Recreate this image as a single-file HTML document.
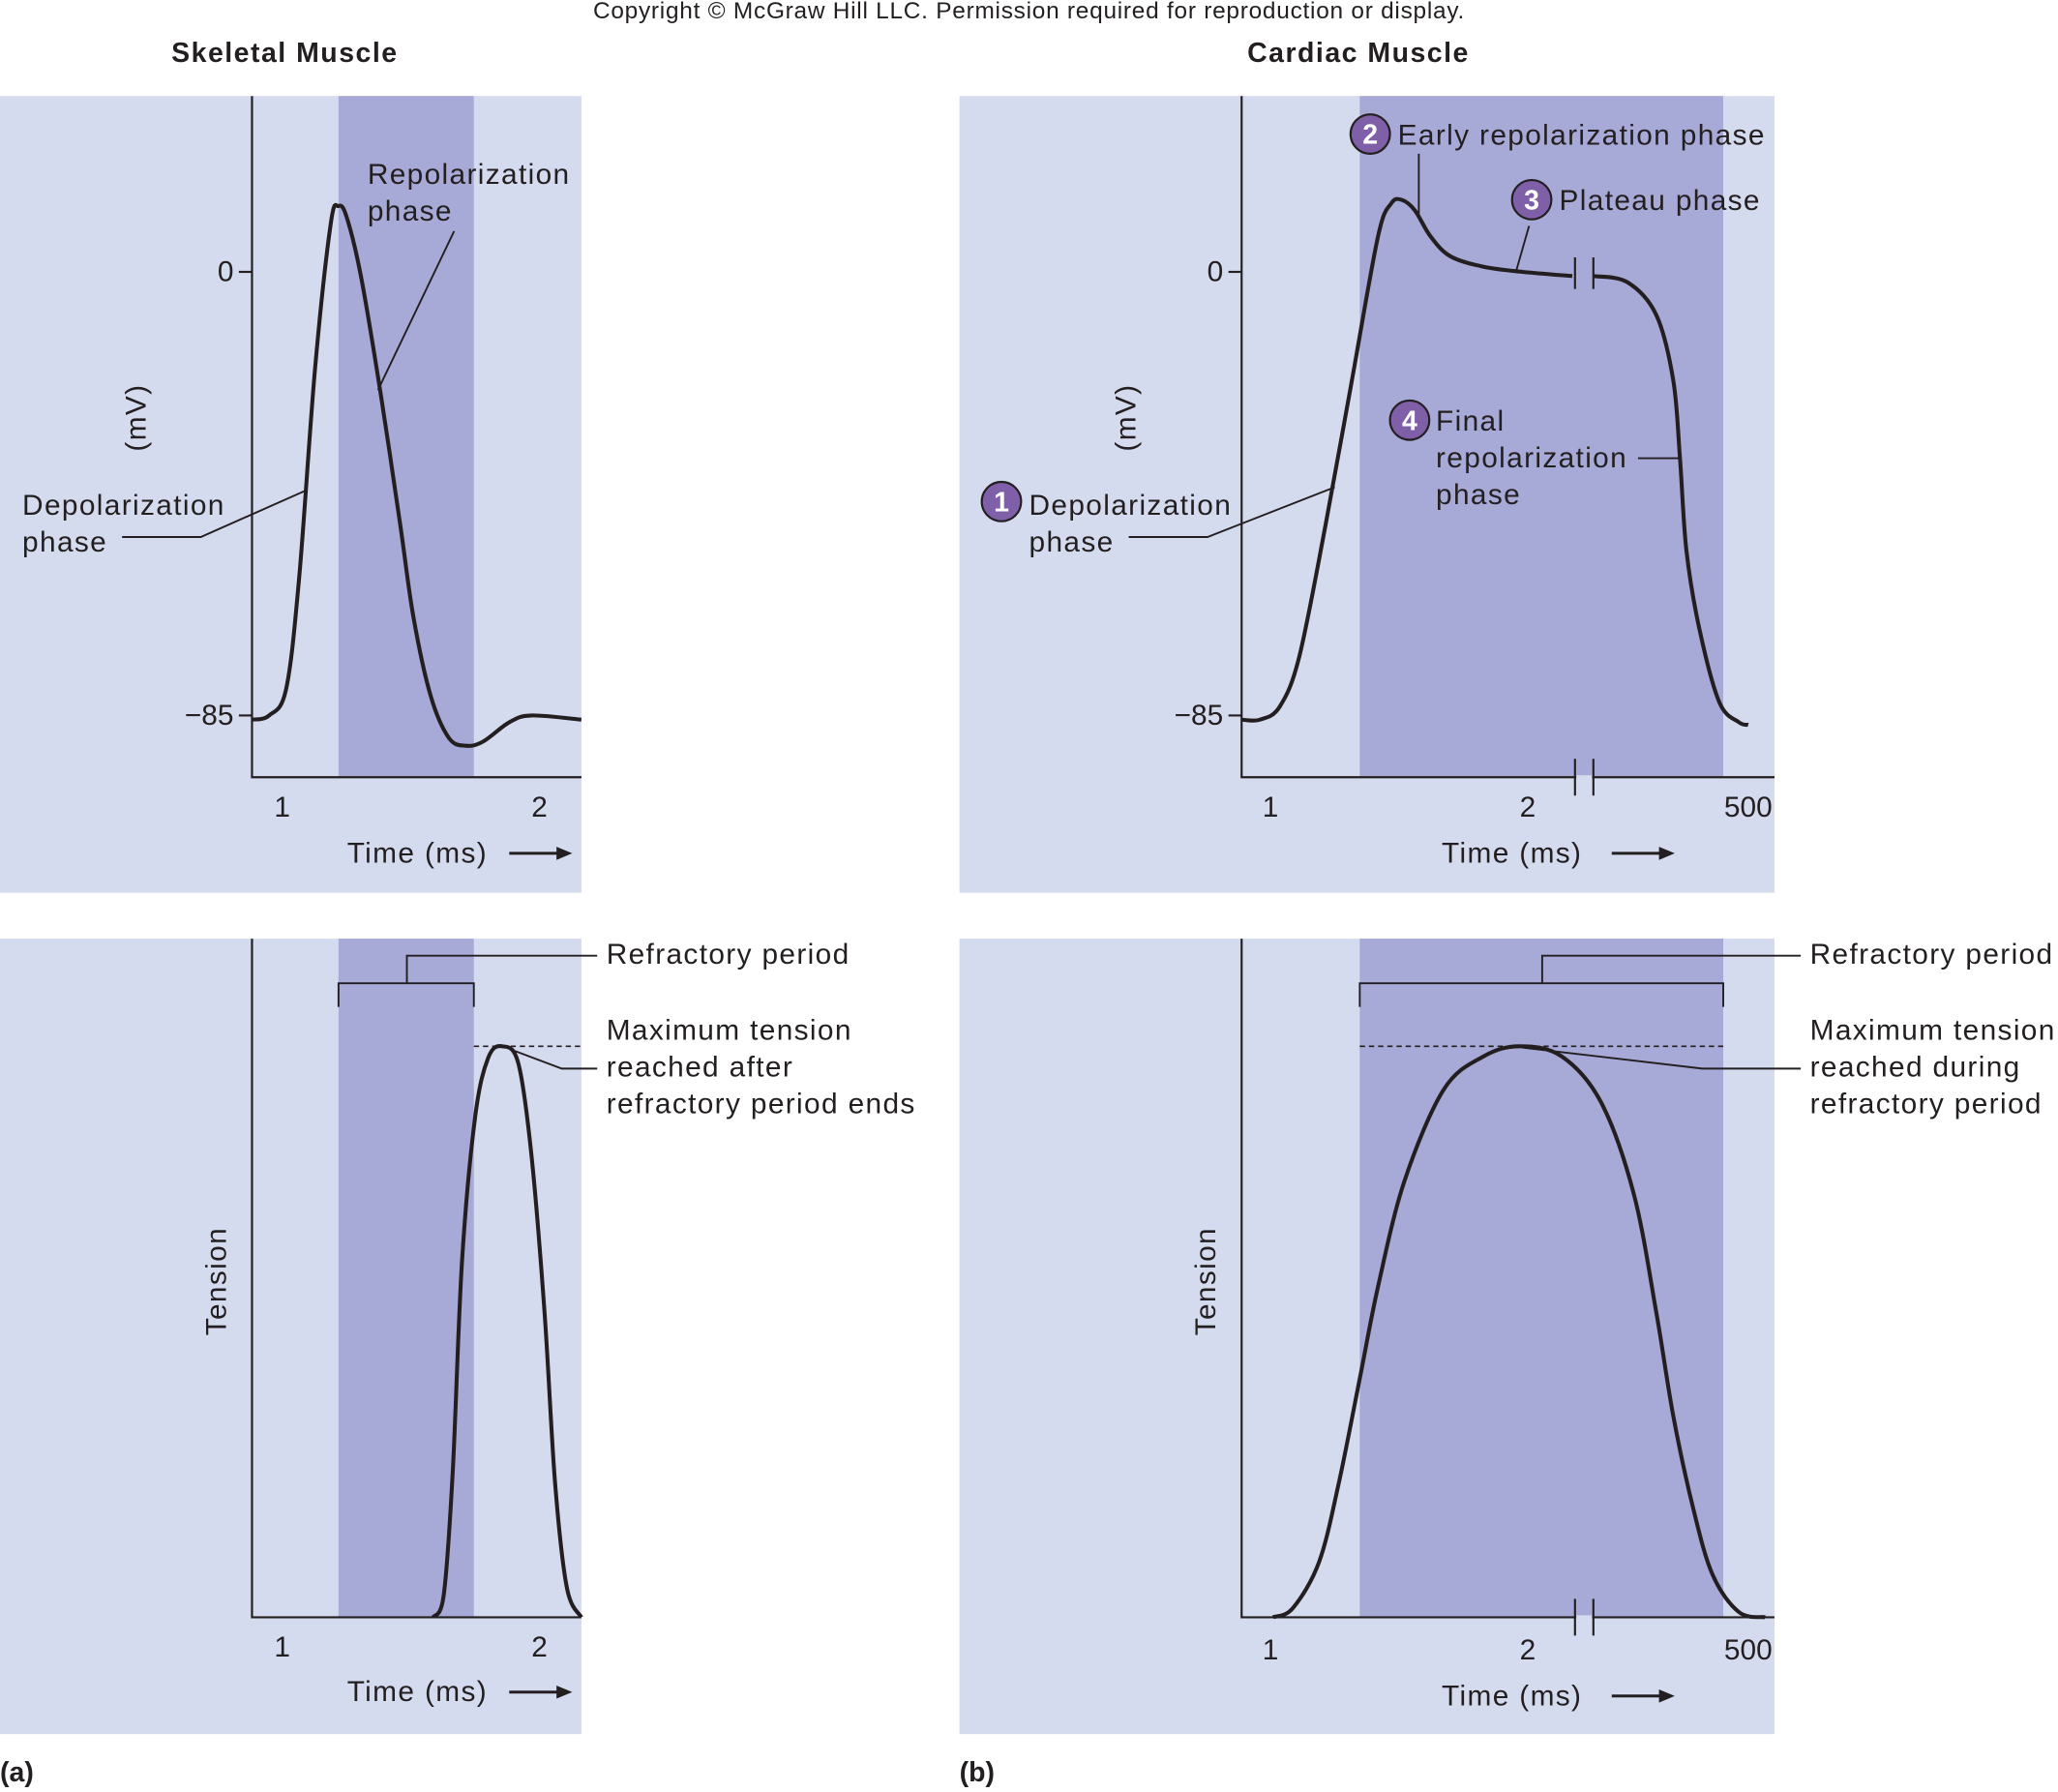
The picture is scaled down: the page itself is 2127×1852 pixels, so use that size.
<!DOCTYPE html>
<html><head><meta charset="utf-8"><style>
html,body{margin:0;padding:0;background:#fff}
svg{display:block}
text{font-family:"Liberation Sans",sans-serif;fill:#231f20}
</style></head><body>
<svg id="fig" width="2127" height="1852" viewBox="0 0 1568 1365" xmlns="http://www.w3.org/2000/svg">
<text x="784" y="14" font-size="18" letter-spacing="0.55" text-anchor="middle">Copyright © McGraw Hill LLC. Permission required for reproduction or display.</text>
<text x="217" y="47" font-size="21" letter-spacing="1.1" font-weight="bold" text-anchor="middle">Skeletal Muscle</text>
<text x="1035" y="47" font-size="21" letter-spacing="1.1" font-weight="bold" text-anchor="middle">Cardiac Muscle</text>
<text x="0" y="1357" font-size="21" font-weight="bold">(a)</text>
<text x="731" y="1357" font-size="21" font-weight="bold">(b)</text>
<g id="charts"></g>
</svg>
<script>
// ---- data ----
const skelAPTime=[0.883,0.949,1.015,1.066,1.128,1.189,1.219,1.250,1.306,1.383,1.459,1.510,1.577,1.648,1.714,1.781,1.883,1.969,2.163];
const skelAPmV=[-85.8,-85.0,-80.0,-58.6,-18.4,9.3,12.6,10.6,-0.8,-23.4,-48.5,-66.1,-81.2,-89.3,-90.8,-90.0,-86.3,-85.0,-85.8];
const cardAPTime1=[0.888,0.959,1.036,1.112,1.214,1.316,1.418,1.469,1.510,1.561,1.622,1.699,1.827,1.980,2.173];
const cardAPmV1=[-85.8,-85.8,-83.3,-73.7,-48.5,-20.9,6.8,13.1,13.8,11.8,6.8,3.0,1.0,0,-0.8];
const cardAPTime2=[2.255,2.388,2.500,2.566,2.592,2.617,2.668,2.745,2.821,2.857];
const cardAPmV2=[-0.8,-2.0,-8.3,-20.9,-35.9,-53.5,-68.6,-82.5,-86.3,-86.8];
const skelTenTime=[1.587,1.628,1.663,1.699,1.750,1.801,1.857,1.918,1.969,2.020,2.061,2.107,2.163];
const skelTen=[0,3.9,25.5,62.3,87.6,98.0,100,97.0,80.9,53.3,23.4,5.1,0];
const cardTenTime=[1.010,1.087,1.189,1.265,1.347,1.418,1.520,1.673,1.827,1.969,2.133,2.286,2.413,2.500,2.566,2.643,2.719,2.821,2.923];
const cardTen=[0,1.6,9.7,23.4,41.8,57.9,76.3,92.4,98.2,100,98.2,90.1,74.0,53.3,35.2,19.1,7.4,0.9,0];
const skelRefractory=[1.219,1.745];
const cardRefractory=[1.347,2.760];
const mvTicks=[0,-85];
const mvTickLabels=["0","\u221285"];
const skelTimeTicks=[1,2];
const skelTimeLabels=["1","2"];
const cardTimeTicks=[1,2,2.857];
const cardTimeLabels=["1","2","500"];

const NS="http://www.w3.org/2000/svg";
const root=document.getElementById('charts');
const FS=22, LS=1;
function el(tag,attrs,parent,txt){const e=document.createElementNS(NS,tag);for(const k in attrs)e.setAttribute(k,attrs[k]);if(txt!==undefined)e.textContent=txt;(parent||root).appendChild(e);return e;}
function curve(xs,ys){const p=xs.map((x,i)=>[x,ys[i]]);let d=`M${p[0][0]},${p[0][1]}`;for(let i=0;i<p.length-1;i++){const p0=p[i-1]||p[i],p1=p[i],p2=p[i+1],p3=p[i+2]||p2;const c1=[p1[0]+(p2[0]-p0[0])/6,p1[1]+(p2[1]-p0[1])/6];const c2=[p2[0]-(p3[0]-p1[0])/6,p2[1]-(p3[1]-p1[1])/6];d+=`C${c1[0]},${c1[1]} ${c2[0]},${c2[1]} ${p2[0]},${p2[1]}`;}return d;}
const tx=t=>215+(t-1)*196, txc=t=>968+(t-1)*196;
const ymv=v=>207-v*3.976;
const yten=v=>1232-v*4.35;

function panel(name,x0,y0,x1,y1,axX,base,band,xf){
  const g=el('g',{});
  
  
  const bg=el('rect',{x:x0,y:y0,width:x1-x0,height:y1-y0,fill:'#d5dbee'},g);
  
  
  const b=el('rect',{x:xf(band[0]),y:y0,width:xf(band[1])-xf(band[0]),height:base-y0,fill:'#a7a9d6'},g);
  
  
  const ax=el('path',{d:`M${axX},${y0}V${base}H${x1}`,fill:'none',stroke:'#231f20','stroke-width':1.6},g);
  
  
  return g;
}
function timeAxis(g,xf,ticks,labels,base,labY,arrowY,labelX,arrowX,brk){
  ticks.forEach((t,i)=>{const l=el('text',{x:xf(t),y:labY,'font-size':FS,'text-anchor':'middle'},g,labels[i]);
    
    });
  const tl=el('text',{x:labelX,y:arrowY+7,'font-size':FS,'letter-spacing':LS,'text-anchor':'middle'},g,'Time (ms)');
  
  
  el('path',{d:`M${arrowX},${arrowY}h38`,stroke:'#231f20','stroke-width':2.2},g);
  el('path',{d:`M${arrowX+48},${arrowY}l-12,-5v10z`,fill:'#231f20'},g);
  if(brk){brk.forEach(x=>el('path',{d:`M${x},${base-14}v28`,stroke:'#231f20','stroke-width':1.6},g));
    el('rect',{x:brk[0]+1,y:base-1.5,width:brk[1]-brk[0]-2,height:3,fill:'#d5dbee'},g);}
}
function mvAxis(g,axX,ylabX){
  mvTicks.forEach((v,i)=>{el('path',{d:`M${axX-10},${ymv(v)}H${axX}`,stroke:'#231f20','stroke-width':1.6},g);
    const l=el('text',{x:axX-14,y:ymv(v)+7,'font-size':FS,'text-anchor':'end'},g,mvTickLabels[i]);
    
    });
  const t=el('text',{x:ylabX,y:318,'font-size':FS,'letter-spacing':LS,'text-anchor':'middle',transform:`rotate(-90 ${ylabX} 318)`},g,'(mV)');
  
  
}
function tensionTitle(g,x){const t=el('text',{x:x,y:976,'font-size':FS,'letter-spacing':LS,'text-anchor':'middle',transform:`rotate(-90 ${x} 976)`},g,'Tension');
  
  }
function line(g,xs,ys,xf,yf,name){const p=el('path',{d:curve(xs.map(xf),ys.map(yf)),fill:'none',stroke:'#231f20','stroke-width':3},g);
  
  }
function txt(g,x,y,lines,name){lines.forEach((s,i)=>{const t=el('text',{x:x,y:y+i*28,'font-size':FS,'letter-spacing':LS},g,s);
  
  });}
function leader(g,d){el('path',{d:d,fill:'none',stroke:'#231f20','stroke-width':1.4},g);}
function badge(g,cx,cy,n){el('circle',{cx:cx,cy:cy,r:15,fill:'#7e5fa8',stroke:'#231f20','stroke-width':1.6},g);
  const t=el('text',{x:cx,y:cy+7.5,'font-size':21,'font-weight':'bold','text-anchor':'middle',style:'fill:#fff'},g,String(n));
  
  }

// Skeletal AP
let g=panel('skeletal-ap-chart',0,73,443,680,192,592,skelRefractory,tx);
mvAxis(g,192,111);
timeAxis(g,tx,skelTimeTicks,skelTimeLabels,592,622,650,318,388);
line(g,skelAPTime,skelAPmV,tx,ymv,'skeletal-ap-line');
txt(g,280,140,['Repolarization','phase'],'repolarization-label');
leader(g,'M346,176L288,297');
txt(g,17,392,['Depolarization','phase'],'depolarization-label');
leader(g,'M93,409H153L232,374');

// Skeletal tension
g=panel('skeletal-tension-chart',0,715,443,1321,192,1232,skelRefractory,tx);
tensionTitle(g,172);
timeAxis(g,tx,skelTimeTicks,skelTimeLabels,1232,1262,1289,318,388);
line(g,skelTenTime,skelTen,tx,yten,'skeletal-tension-line');
leader(g,`M${tx(skelRefractory[0])},767V749H${tx(skelRefractory[1])}V767M310,749V728H455`);
el('path',{d:`M${tx(skelRefractory[1])},${yten(100)}H443`,stroke:'#231f20','stroke-width':1.2,'stroke-dasharray':'4,3'},g);
leader(g,'M388,799L428,814H455');
txt(g,462,734,['Refractory period'],'refractory-label');
txt(g,462,792,['Maximum tension','reached after','refractory period ends'],'max-tension-label');

// Cardiac AP
g=panel('cardiac-ap-chart',731,73,1352,680,946,592,cardRefractory,txc);
mvAxis(g,946,865);
timeAxis(g,txc,cardTimeTicks,cardTimeLabels,592,622,650,1152,1228,[1200,1214]);
line(g,cardAPTime1,cardAPmV1,txc,ymv,'cardiac-ap-line-early');
line(g,cardAPTime2,cardAPmV2,txc,ymv,'cardiac-ap-line-late');
el('path',{d:'M1200,196v24M1214,196v24',stroke:'#231f20','stroke-width':1.6},g);
badge(g,1044,102,2);txt(g,1065,110,['Early repolarization phase'],'early-repolarization-label');
leader(g,'M1081,117V163');
badge(g,1167,152,3);txt(g,1188,160,['Plateau phase'],'plateau-label');
leader(g,'M1165,172L1155,207');
badge(g,1074,320,4);txt(g,1094,328,['Final','repolarization','phase'],'final-repolarization-label');
leader(g,'M1248,349H1281');
badge(g,763,382,1);txt(g,784,392,['Depolarization','phase'],'cardiac-depolarization-label');
leader(g,'M860,409H920L1017,371');

// Cardiac tension
g=panel('cardiac-tension-chart',731,715,1352,1321,946,1232,cardRefractory,txc);
tensionTitle(g,926);
timeAxis(g,txc,cardTimeTicks,cardTimeLabels,1232,1264,1292,1152,1228,[1200,1214]);
line(g,cardTenTime,cardTen,txc,yten,'cardiac-tension-line');
leader(g,`M${txc(cardRefractory[0])},767V749H${txc(cardRefractory[1])}V767M1175,749V728H1372`);
el('path',{d:`M${txc(cardRefractory[0])},${yten(100)}H${txc(cardRefractory[1])}`,stroke:'#231f20','stroke-width':1.2,'stroke-dasharray':'4,3'},g);
leader(g,'M1160,798L1297,814H1372');
txt(g,1379,734,['Refractory period'],'cardiac-refractory-label');
txt(g,1379,792,['Maximum tension','reached during','refractory period'],'cardiac-max-tension-label');
</script>
</body></html>
